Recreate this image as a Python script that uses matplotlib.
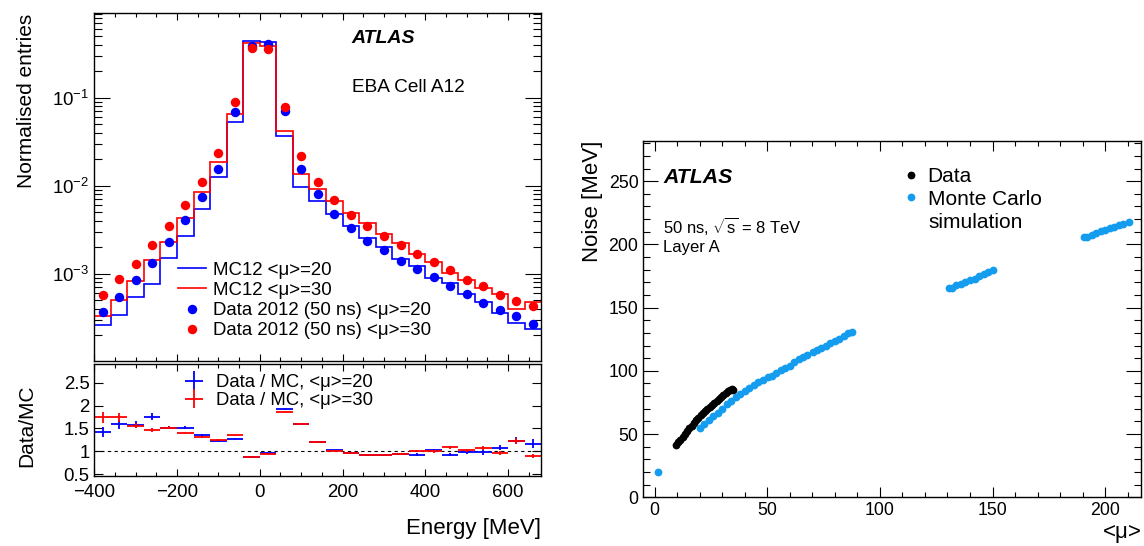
import numpy as np
import matplotlib
matplotlib.use('Agg')
import matplotlib.pyplot as plt
from matplotlib.ticker import MultipleLocator, LogLocator, NullFormatter

plt.rcParams['font.family'] = ['Liberation Sans', 'DejaVu Sans']
plt.rcParams['mathtext.fontset'] = 'custom'
plt.rcParams['mathtext.rm'] = 'Liberation Sans'
plt.rcParams['mathtext.it'] = 'Liberation Sans:italic'
plt.rcParams['mathtext.bf'] = 'Liberation Sans:bold'
plt.rcParams['axes.linewidth'] = 1.0

# ---- left: energy distribution in EBA cell A12 ----
bin_edges = [-400, -360, -320, -280, -240, -200, -160, -120, -80, -40, 0, 40, 80, 120,
             160, 200, 240, 280, 320, 360, 400, 440, 480, 520, 560, 600, 640, 680]
bin_centres = [-380, -340, -300, -260, -220, -180, -140, -100, -60, -20, 20, 60, 100, 140,
               180, 220, 260, 300, 340, 380, 420, 460, 500, 540, 580, 620, 660]

mc_mu20 = [2.58e-4, 3.42e-4, 5.41e-4, 7.56e-4, 1.51e-3, 2.66e-3, 5.46e-3, 0.0126, 0.0531,
           0.443, 0.427, 0.0365, 9.56e-3, 6.67e-3, 4.72e-3, 3.44e-3, 2.51e-3, 1.98e-3,
           1.46e-3, 1.23e-3, 8.9e-4, 7.72e-4, 5.88e-4, 4.78e-4, 3.55e-4, 2.71e-4, 2.31e-4]
mc_mu30 = [3.32e-4, 4.96e-4, 8.27e-4, 1.43e-3, 2.31e-3, 4.34e-3, 8.4e-3, 0.0188, 0.0659,
           0.416, 0.383, 0.0417, 0.0135, 9.25e-3, 6.73e-3, 4.88e-3, 3.77e-3, 2.85e-3,
           2.21e-3, 1.67e-3, 1.36e-3, 1.02e-3, 8.38e-4, 6.77e-4, 5.92e-4, 3.98e-4, 4.78e-4]
data_mu20 = [3.67e-4, 5.43e-4, 8.55e-4, 1.33e-3, 2.29e-3, 4.04e-3, 7.43e-3, 0.0155, 0.068,
             0.39, 0.41, 0.070, 0.0153, 0.0080, 4.81e-3, 3.30e-3, 2.33e-3, 1.84e-3,
             1.39e-3, 1.14e-3, 9.17e-4, 7.18e-4, 5.82e-4, 4.68e-4, 3.83e-4, 3.33e-4, 2.70e-4]
data_mu30 = [5.77e-4, 8.63e-4, 1.29e-3, 2.10e-3, 3.51e-3, 6.03e-3, 0.0110, 0.0235, 0.089,
             0.366, 0.36, 0.078, 0.0216, 0.0111, 6.8e-3, 4.68e-3, 3.51e-3, 2.65e-3,
             2.10e-3, 1.69e-3, 1.36e-3, 1.11e-3, 8.55e-4, 7.24e-4, 5.68e-4, 4.89e-4, 4.30e-4]

ratio_mu20 = [1.42, 1.59, 1.58, 1.76, 1.52, 1.52, 1.36, 1.23, 1.28, 0.88, 0.96, 1.92, 1.60, 1.20,
              1.02, 0.96, 0.93, 0.93, 0.95, 0.93, 1.03, 0.93, 0.99, 0.98, 1.08, 1.23, 1.17]
ratio_err20 = [0.11, 0.10, 0.08, 0.08, 0.04, 0.03, 0.02, 0.02, 0.01, 0.01, 0.01, 0.01, 0.01, 0.01,
               0.01, 0.01, 0.02, 0.02, 0.02, 0.03, 0.03, 0.04, 0.04, 0.05, 0.06, 0.08, 0.10]
ratio_mu30 = [1.74, 1.74, 1.56, 1.47, 1.52, 1.39, 1.31, 1.25, 1.35, 0.88, 0.94, 1.87, 1.60, 1.20,
              1.01, 0.96, 0.93, 0.93, 0.95, 1.01, 1.00, 1.09, 1.02, 1.07, 0.96, 1.23, 0.90]
ratio_err30 = [0.12, 0.09, 0.06, 0.04, 0.03, 0.02, 0.02, 0.01, 0.01, 0.01, 0.01, 0.01, 0.01, 0.01,
               0.01, 0.01, 0.01, 0.02, 0.02, 0.02, 0.03, 0.03, 0.03, 0.04, 0.04, 0.07, 0.04]

# ---- right: noise vs pile-up ----
data_pileup = [9.6, 10.5, 11.5, 12.5, 13.5, 14.5, 15.5, 16.5, 17.5, 18.5, 19.5, 20.5, 21.5,
               22.5, 23.5, 24.5, 25.5, 26.5, 27.5, 28.5, 29.5, 30.5, 31.5, 32.5, 33.5, 34.5, 35]
data_noise = [41.5, 43.5, 45.5, 47.5, 49.8, 52.2, 54.5, 56.5, 58.8, 61, 62.8, 64.8, 66.5,
              68.2, 70, 71.6, 73.2, 74.8, 76.5, 78, 79.6, 81.2, 82.7, 84, 85.2, 85.6, 85]
mc_pileup = [1.7,
             20.2, 22, 24, 26, 28, 30, 32, 34, 36, 38, 40, 42, 44, 46, 48,
             50.5, 52, 54, 56, 58, 60, 62, 64, 66, 67.5,
             70.5, 72, 74, 76, 78, 80, 82, 84, 86, 87.5,
             130.7, 132, 134, 136, 138, 140, 142, 144, 146, 148, 150.2,
             190.4, 192, 194, 196, 198, 200, 202, 204, 206, 208, 210.5]
mc_noise = [20.3,
            55, 58, 61, 64, 67, 70, 73.5, 76.5, 79.4, 82, 84.4, 86.6, 88.7, 90.8, 92.5,
            94.8, 96.3, 98.3, 100.3, 102.2, 104.2, 106.6, 109, 111, 112.5,
            115.1, 116.4, 118, 120, 122, 123.6, 125.3, 127.5, 129.6, 130.9,
            165.2, 165.8, 167.5, 169, 170.5, 171.8, 173, 174.8, 176.5, 178, 179.7,
            205.5, 206, 207.5, 209, 210.3, 211.6, 212.6, 213.8, 215, 216, 217.4]

MC_BLUE = '#149cef'


def root_ticks(ax, axis, major, minor, size):
    ax.tick_params(axis=axis, which='both', direction='in', width=0.8,
                   top=True, right=True, labelsize=size)
    ax.tick_params(axis=axis, which='major', length=major)
    ax.tick_params(axis=axis, which='minor', length=minor)


fig = plt.figure(figsize=(11.44, 5.46), dpi=100)
ax_top = fig.add_axes([0.0824, 0.3394, 0.3907, 0.6363])
ax_rat = fig.add_axes([0.0824, 0.1282, 0.3907, 0.2051])
ax_r = fig.add_axes([0.5623, 0.0892, 0.4353, 0.6531])

# top panel
ax_top.stairs(mc_mu20, bin_edges, baseline=None, color='blue', lw=1.2, label='MC12 <μ>=20')
ax_top.stairs(mc_mu30, bin_edges, baseline=None, color='red', lw=1.2, label='MC12 <μ>=30')
ax_top.plot(bin_centres, data_mu20, 'o', color='blue', ms=6.8, mec='none',
            label='Data 2012 (50 ns) <μ>=20')
ax_top.plot(bin_centres, data_mu30, 'o', color='red', ms=6.8, mec='none',
            label='Data 2012 (50 ns) <μ>=30')
ax_top.set_yscale('log')
ax_top.set_xlim(-400, 680)
ax_top.set_ylim(1.02e-4, 0.914)
ax_top.xaxis.set_major_locator(MultipleLocator(200))
ax_top.xaxis.set_minor_locator(MultipleLocator(50))
ax_top.yaxis.set_major_locator(LogLocator(base=10))
ax_top.yaxis.set_minor_locator(LogLocator(base=10, subs=np.arange(2, 10)))
ax_top.yaxis.set_minor_formatter(NullFormatter())
root_ticks(ax_top, 'x', 5, 3, 13.4)
root_ticks(ax_top, 'y', 11.5, 5.8, 13.4)
ax_top.tick_params(axis='x', labelbottom=False)
ax_top.set_ylabel('Normalised entries', loc='top', fontsize=15)
ax_top.yaxis.set_label_coords(-0.13, 1.0)
ax_top.legend(loc='upper left', bbox_to_anchor=(0.187, 0.285), frameon=False, fontsize=13.4,
              handlelength=1.5, handletextpad=0.4, labelspacing=0.17, borderpad=0,
              borderaxespad=0)
fig.text(0.3074, 0.9299, 'ATLAS', fontsize=14, fontweight='bold', fontstyle='italic',
         va='center')
fig.text(0.3074, 0.840, 'EBA Cell A12', fontsize=13.7, va='center')

# ratio panel
ax_rat.axhline(1, color='black', ls=(0, (3, 3)), lw=0.8)
ax_rat.errorbar(bin_centres, ratio_mu20, xerr=20, yerr=ratio_err20, fmt='none',
                ecolor='blue', elinewidth=1.3, label='Data / MC, <μ>=20')
ax_rat.errorbar(bin_centres, ratio_mu30, xerr=20, yerr=ratio_err30, fmt='none',
                ecolor='red', elinewidth=1.3, label='Data / MC, <μ>=30')
ax_rat.set_xlim(-400, 680)
ax_rat.set_ylim(0.46, 2.91)
ax_rat.xaxis.set_major_locator(MultipleLocator(200))
ax_rat.xaxis.set_minor_locator(MultipleLocator(50))
ax_rat.set_yticks([0.5, 1, 1.5, 2, 2.5], ['0.5', '1', '1.5', '2', '2.5'])
root_ticks(ax_rat, 'x', 5, 3, 13.4)
root_ticks(ax_rat, 'y', 6.5, 3, 13.4)
ax_rat.tick_params(axis='x', pad=6)
ax_rat.set_ylabel('Data/MC', fontsize=15)
ax_rat.yaxis.set_label_coords(-0.13, 0.45)
ax_rat.set_xlabel('Energy [MeV]', loc='right', fontsize=16, labelpad=12)
ax_rat.legend(loc='upper left', bbox_to_anchor=(0.19, 0.91), frameon=False, fontsize=13.3,
              handlelength=1.6, handletextpad=0.4, labelspacing=0.05, borderpad=0,
              borderaxespad=0)

# right panel
ax_r.plot(data_pileup, data_noise, 'o', color='black', ms=5.6, mec='none', label='Data')
ax_r.plot(mc_pileup, mc_noise, 'o', color=MC_BLUE, ms=5.6, mec='none', label='Monte Carlo')
ax_r.set_xlim(-5, 216)
ax_r.set_ylim(0, 282)
ax_r.xaxis.set_major_locator(MultipleLocator(50))
ax_r.xaxis.set_minor_locator(MultipleLocator(10))
ax_r.yaxis.set_major_locator(MultipleLocator(50))
ax_r.yaxis.set_minor_locator(MultipleLocator(10))
root_ticks(ax_r, 'x', 7.2, 3.4, 12.8)
root_ticks(ax_r, 'y', 10.8, 5, 12.8)
ax_r.set_xlabel('<μ>', loc='right', fontsize=16, labelpad=2)
ax_r.set_ylabel('Noise [MeV]', loc='top', fontsize=16)
ax_r.legend(loc='upper left', bbox_to_anchor=(0.525, 0.925), frameon=False, fontsize=15,
            handlelength=0.6, handletextpad=0.5, labelspacing=0.15, borderpad=0,
            borderaxespad=0)
fig.text(0.8112, 0.5916, 'simulation', fontsize=15, va='center')
fig.text(0.5796, 0.6758, 'ATLAS', fontsize=15.3, fontweight='bold', fontstyle='italic',
         va='center')
fig.text(0.5796, 0.5867, r'50 ns, $\sqrt{\mathrm{s}}$ = 8 TeV', fontsize=12, va='center')
fig.text(0.5796, 0.5464, 'Layer A', fontsize=12, va='center')

fig.savefig('out.png', dpi=100)
